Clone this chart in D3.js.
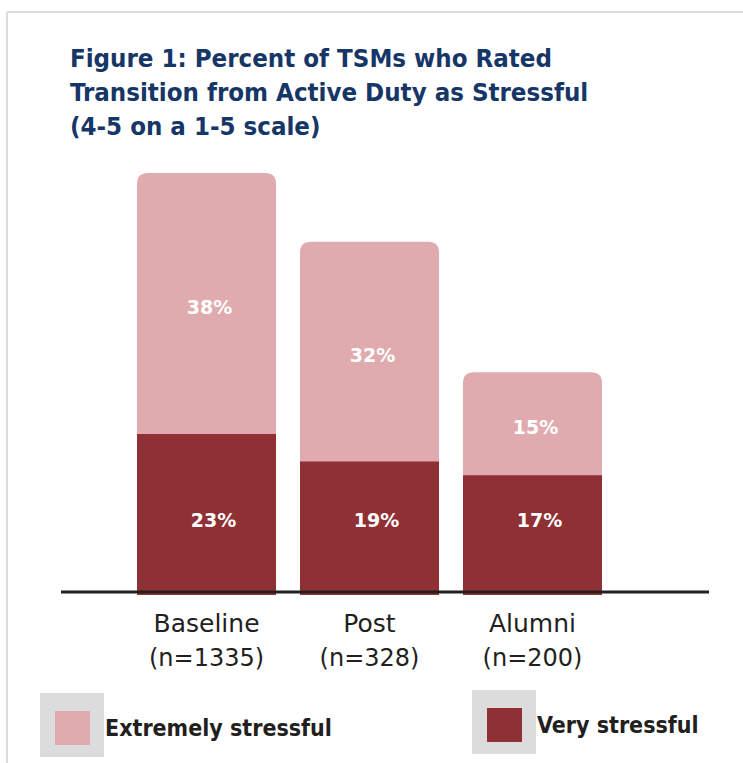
<html>
    <head>
        <title>figure1</title>
        <style>
            body { margin: 0; background: #fff; }
        </style>
    </head>
    <body>
    </body>
    <script src='https://d3js.org/d3.v7.min.js'></script>
    <script>
        // data
        var groups = ['Baseline', 'Post', 'Alumni']
        var groupN = ['(n=1335)', '(n=328)', '(n=200)']
        var very = [23, 19, 17]
        var extremely = [38, 32, 15]
        var seriesNames = ['Extremely stressful', 'Very stressful']
        var titleLines = ['Figure 1: Percent of TSMs who Rated',
                          'Transition from Active Duty as Stressful',
                          '(4-5 on a 1-5 scale)']

        var width = 743
        var height = 763
        var colPink = '#e0abae'
        var colDark = '#8f3035'
        var colTitle = '#163668'

        var svg = d3.select('body')
            .append('svg')
            .attr('width', width)
            .attr('height', height)

        // frame lines
        svg.append('line').attr('x1', 7).attr('x2', width).attr('y1', 12).attr('y2', 12)
            .attr('stroke', '#dcdcdc').attr('stroke-width', 2)
        svg.append('line').attr('x1', 7).attr('x2', 7).attr('y1', 12).attr('y2', height)
            .attr('stroke', '#dcdcdc').attr('stroke-width', 2)

        // title
        svg.append('g').selectAll('text')
            .data(titleLines)
            .enter()
            .append('text')
            .attr('x', 70)
            .attr('y', function(d, i) { return 67 + i * 34 })
            .attr('fill', colTitle)
            .attr('font-family', 'DejaVu Sans Condensed, DejaVu Sans')
            .attr('font-stretch', 'condensed')
            .attr('font-weight', 'bold')
            .attr('font-size', 25.6)
            .text(function(d) { return d })

        var xScale = d3.scaleBand()
            .domain(groups)
            .range([137, 602])
            .paddingInner(0.147)
            .paddingOuter(0)

        var yScale = d3.scaleLinear()
            .domain([0, 61])
            .range([592, 173])

        var chart = svg.append('g')
        var r = 11

        // pink (extremely) segments: rounded top
        chart.selectAll('path.ext')
            .data(groups)
            .enter()
            .append('path')
            .attr('class', 'ext')
            .attr('fill', colPink)
            .attr('d', function(d, i) {
                var x0 = xScale(d), x1 = x0 + xScale.bandwidth()
                var yt = yScale(very[i] + extremely[i])
                var yb = yScale(very[i]) + 1
                return 'M' + x0 + ',' + yb + 'L' + x0 + ',' + (yt + r)
                    + 'Q' + x0 + ',' + yt + ' ' + (x0 + r) + ',' + yt
                    + 'L' + (x1 - r) + ',' + yt
                    + 'Q' + x1 + ',' + yt + ' ' + x1 + ',' + (yt + r)
                    + 'L' + x1 + ',' + yb + 'Z'
            })

        // dark (very) segments
        chart.selectAll('rect.very')
            .data(groups)
            .enter()
            .append('rect')
            .attr('class', 'very')
            .attr('fill', colDark)
            .attr('x', function(d) { return xScale(d) })
            .attr('width', xScale.bandwidth())
            .attr('y', function(d, i) { return yScale(very[i]) })
            .attr('height', function(d, i) { return yScale(0) - yScale(very[i]) + 3 })

        // value labels
        chart.selectAll('text.extl')
            .data(groups)
            .enter()
            .append('text')
            .attr('x', function(d) { return xScale(d) + xScale.bandwidth() / 2 + 3 })
            .attr('y', function(d, i) { return yScale(very[i] + extremely[i] / 2) + 10 })
            .attr('text-anchor', 'middle')
            .attr('fill', '#fff')
            .attr('font-family', 'DejaVu Sans')
            .attr('font-weight', 'bold')
            .attr('font-size', 19)
            .text(function(d, i) { return extremely[i] + '%' })

        // the dark-segment labels sit on one common line in the original
        chart.selectAll('text.veryl')
            .data(groups)
            .enter()
            .append('text')
            .attr('x', function(d) { return xScale(d) + xScale.bandwidth() / 2 + 7 })
            .attr('y', yScale(10.5) + 7)
            .attr('text-anchor', 'middle')
            .attr('fill', '#fff')
            .attr('font-family', 'DejaVu Sans')
            .attr('font-weight', 'bold')
            .attr('font-size', 19)
            .text(function(d, i) { return very[i] + '%' })

        // baseline
        svg.append('line')
            .attr('x1', 61).attr('x2', 709)
            .attr('y1', yScale(0)).attr('y2', yScale(0))
            .attr('stroke', '#231f20').attr('stroke-width', 3)

        // category labels
        var cat = svg.append('g').selectAll('g')
            .data(groups)
            .enter()
            .append('g')
            .attr('transform', function(d) { return 'translate(' + (xScale(d) + xScale.bandwidth() / 2) + ',0)' })
        cat.append('text')
            .attr('y', 632)
            .attr('text-anchor', 'middle')
            .attr('fill', '#231f20')
            .attr('font-family', 'DejaVu Sans')
            .attr('font-size', 25)
            .text(function(d) { return d })
        cat.append('text')
            .attr('y', 666)
            .attr('text-anchor', 'middle')
            .attr('fill', '#231f20')
            .attr('font-family', 'DejaVu Sans')
            .attr('font-size', 24)
            .text(function(d, i) { return groupN[i] })

        // legend
        var legendPos = [[40, 693], [472, 690]]
        var legendCol = [colPink, colDark]
        var leg = svg.append('g').selectAll('g')
            .data(seriesNames)
            .enter()
            .append('g')
            .attr('transform', function(d, i) { return 'translate(' + legendPos[i][0] + ',' + legendPos[i][1] + ')' })
        leg.append('rect')
            .attr('width', 64).attr('height', 64)
            .attr('fill', '#dcdcdc')
        leg.append('rect')
            .attr('x', 15).attr('y', 18)
            .attr('width', 35).attr('height', 34)
            .attr('fill', function(d, i) { return legendCol[i] })
        leg.append('text')
            .attr('x', 65)
            .attr('y', 43)
            .attr('fill', '#231f20')
            .attr('font-family', 'DejaVu Sans Condensed, DejaVu Sans')
            .attr('font-stretch', 'condensed')
            .attr('font-weight', 'bold')
            .attr('font-size', 23)
            .text(function(d) { return d })
    </script>
</html>
